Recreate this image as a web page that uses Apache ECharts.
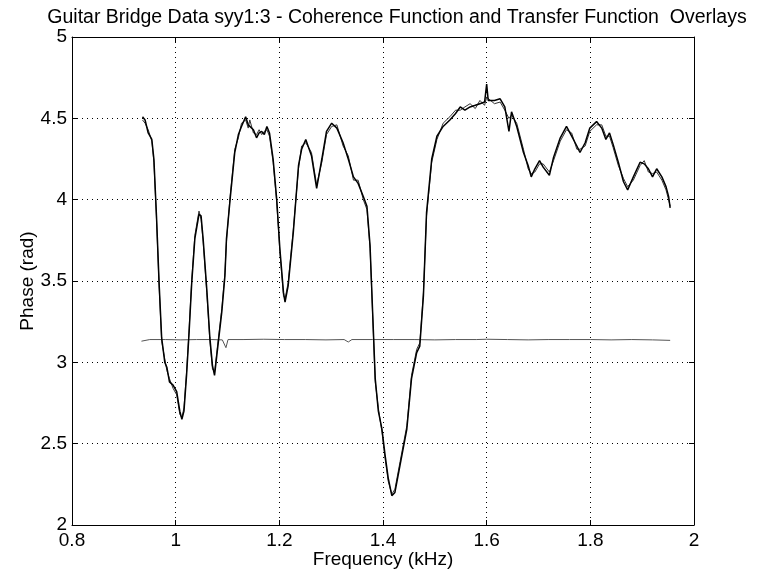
<!DOCTYPE html>
<html>
<head>
<meta charset="utf-8">
<script src="https://cdn.jsdelivr.net/npm/echarts@6/dist/echarts.min.js"></script>
<style>
  html, body { margin: 0; padding: 0; background: #fff; }
  #chart { width: 758px; height: 574px; }
</style>
</head>
<body>
<div id="chart"></div>
<script>
// 传递函数频率 (kHz)
var freq = [
  0.936, 0.941, 0.947, 0.954, 0.958, 0.963, 0.968, 0.973, 0.979, 0.983,
  0.988, 0.995, 1.002, 1.008, 1.012, 1.016, 1.021, 1.026, 1.031, 1.037,
  1.045, 1.049, 1.053, 1.060, 1.066, 1.071, 1.075, 1.080, 1.089, 1.095,
  1.098, 1.105, 1.114, 1.121, 1.127, 1.135, 1.140, 1.143, 1.150, 1.156,
  1.161, 1.166, 1.171, 1.176, 1.181, 1.188, 1.195, 1.201, 1.208, 1.211,
  1.217, 1.227, 1.237, 1.243, 1.251, 1.262, 1.272, 1.282, 1.291, 1.301,
  1.311, 1.323, 1.333, 1.343, 1.352, 1.362, 1.369, 1.375, 1.380, 1.385,
  1.391, 1.398, 1.404, 1.410, 1.417, 1.423, 1.433, 1.446, 1.455, 1.465,
  1.471, 1.478, 1.484, 1.494, 1.504, 1.516, 1.529, 1.540, 1.549, 1.558,
  1.568, 1.578, 1.587, 1.596, 1.600, 1.603, 1.615, 1.626, 1.635, 1.643,
  1.648, 1.658, 1.671, 1.680, 1.686, 1.693, 1.702, 1.709, 1.721, 1.729,
  1.742, 1.754, 1.764, 1.774, 1.780, 1.790, 1.799, 1.812, 1.822, 1.830,
  1.837, 1.844, 1.854, 1.864, 1.872, 1.883, 1.896, 1.904, 1.912, 1.920,
  1.928, 1.938, 1.946, 1.951, 1.954
];
// 相位 - 第一次测量
var phase1 = [
  4.51, 4.49, 4.41, 4.37, 4.25, 3.90, 3.49, 3.15, 3.00, 2.97,
  2.88, 2.86, 2.82, 2.70, 2.65, 2.70, 2.92, 3.19, 3.49, 3.76,
  3.91, 3.90, 3.76, 3.45, 3.15, 2.98, 2.92, 3.06, 3.31, 3.53,
  3.76, 4.00, 4.29, 4.40, 4.45, 4.51, 4.46, 4.47, 4.43, 4.38,
  4.41, 4.42, 4.40, 4.45, 4.41, 4.25, 4.00, 3.70, 3.43, 3.37,
  3.47, 3.80, 4.21, 4.31, 4.37, 4.27, 4.07, 4.25, 4.42, 4.47,
  4.44, 4.35, 4.25, 4.14, 4.10, 4.02, 3.96, 3.72, 3.31, 2.90,
  2.70, 2.59, 2.43, 2.29, 2.18, 2.20, 2.37, 2.59, 2.90, 3.06,
  3.10, 3.41, 3.92, 4.25, 4.39, 4.45, 4.49, 4.53, 4.57, 4.55,
  4.57, 4.58, 4.59, 4.60, 4.71, 4.61, 4.61, 4.62, 4.57, 4.42,
  4.54, 4.45, 4.29, 4.21, 4.14, 4.19, 4.24, 4.20, 4.15, 4.26,
  4.38, 4.45, 4.39, 4.33, 4.29, 4.35, 4.44, 4.48, 4.44, 4.37,
  4.41, 4.34, 4.23, 4.11, 4.06, 4.14, 4.23, 4.22, 4.19, 4.14,
  4.19, 4.14, 4.08, 4.02, 3.95
];
// 相位 - 第二次测量
var phase2 = [
  4.49, 4.47, 4.43, 4.36, 4.23, 3.88, 3.47, 3.13, 3.02, 2.95,
  2.90, 2.84, 2.80, 2.68, 2.66, 2.72, 2.94, 3.21, 3.51, 3.78,
  3.93, 3.88, 3.74, 3.43, 3.13, 2.96, 2.94, 3.08, 3.33, 3.55,
  3.74, 4.02, 4.31, 4.38, 4.47, 4.49, 4.44, 4.49, 4.41, 4.40,
  4.43, 4.40, 4.42, 4.43, 4.39, 4.23, 3.98, 3.68, 3.41, 3.39,
  3.49, 3.82, 4.19, 4.33, 4.35, 4.29, 4.09, 4.23, 4.40, 4.45,
  4.46, 4.33, 4.27, 4.12, 4.12, 4.00, 3.94, 3.70, 3.29, 2.88,
  2.72, 2.57, 2.41, 2.27, 2.19, 2.22, 2.39, 2.61, 2.92, 3.08,
  3.12, 3.43, 3.90, 4.23, 4.37, 4.47, 4.51, 4.55, 4.55, 4.57,
  4.59, 4.56, 4.61, 4.58, 4.63, 4.63, 4.59, 4.60, 4.55, 4.50,
  4.52, 4.47, 4.31, 4.19, 4.16, 4.17, 4.22, 4.22, 4.17, 4.24,
  4.36, 4.43, 4.41, 4.31, 4.31, 4.33, 4.42, 4.46, 4.46, 4.39,
  4.39, 4.32, 4.21, 4.13, 4.08, 4.12, 4.21, 4.24, 4.17, 4.16,
  4.17, 4.12, 4.06, 4.00, 3.96
];
// 相干函数曲线
var cohFreq = [
  0.934, 0.950, 0.980, 1.010, 1.040, 1.070, 1.090, 1.097, 1.101, 1.130,
  1.170, 1.210, 1.250, 1.290, 1.325, 1.333, 1.340, 1.380, 1.420, 1.460,
  1.500, 1.540, 1.580, 1.600, 1.640, 1.680, 1.720, 1.760, 1.800, 1.840,
  1.880, 1.920, 1.954
];
var coh = [
  3.13, 3.14, 3.14, 3.138, 3.14, 3.14, 3.138, 3.09, 3.14, 3.14,
  3.142, 3.14, 3.14, 3.138, 3.14, 3.125, 3.14, 3.14, 3.14, 3.14,
  3.138, 3.14, 3.14, 3.142, 3.14, 3.138, 3.14, 3.14, 3.14, 3.138,
  3.14, 3.138, 3.135
];

var xTicks = { min: 0.8, max: 2, interval: 0.2 };
var yTicks = { min: 2, max: 5, interval: 0.5 };

function pairs(xs, ys) {
  return xs.map(function (x, i) { return [x, ys[i]]; });
}

var FONT = 'Liberation Sans, Arial, Helvetica, sans-serif';
var FS = 19;
var chart = echarts.init(document.getElementById('chart'));

var dotted = { show: true, lineStyle: { color: '#000', width: 1, type: [1, 4] } };
var tick = { show: true, inside: true, length: 5, lineStyle: { color: '#000' } };
var line = { show: true, onZero: false, lineStyle: { color: '#000', width: 1 } };

chart.setOption({
  animation: false,
  backgroundColor: '#fff',
  title: {
    text: 'Guitar Bridge Data syy1:3 - Coherence Function and Transfer Function  Overlays',
    left: 392,
    textAlign: 'center',
    top: 3,
    textStyle: { fontFamily: FONT, fontSize: 19.5, fontWeight: 'normal', color: '#000' }
  },
  grid: { left: 72, right: 64, top: 37, bottom: 47 },
  xAxis: [{
    type: 'value',
    min: xTicks.min, max: xTicks.max, interval: xTicks.interval,
    name: 'Frequency (kHz)',
    nameLocation: 'middle',
    nameGap: 25,
    nameMoveOverlap: false,
    nameTextStyle: { fontFamily: FONT, fontSize: FS, color: '#000' },
    axisLine: line,
    axisTick: tick,
    axisLabel: { fontFamily: FONT, fontSize: FS, color: '#000', margin: 6 },
    splitLine: dotted
  }, {
    type: 'value', position: 'top',
    min: xTicks.min, max: xTicks.max, interval: xTicks.interval,
    axisLine: line, axisTick: tick, axisLabel: { show: false }, splitLine: { show: false }
  }],
  yAxis: [{
    type: 'value',
    min: yTicks.min, max: yTicks.max, interval: yTicks.interval,
    name: 'Phase (rad)',
    nameLocation: 'middle',
    nameGap: 35,
    nameMoveOverlap: false,
    nameTextStyle: { fontFamily: FONT, fontSize: FS, color: '#000' },
    axisLine: line,
    axisTick: tick,
    axisLabel: { fontFamily: FONT, fontSize: FS, color: '#000', margin: 5 },
    splitLine: dotted
  }, {
    type: 'value', position: 'right',
    min: yTicks.min, max: yTicks.max, interval: yTicks.interval,
    axisLine: line, axisTick: tick, axisLabel: { show: false }, splitLine: { show: false }
  }],
  series: [{
    type: 'line', name: 'coherence',
    data: pairs(cohFreq, coh),
    showSymbol: false,
    lineStyle: { color: '#555', width: 1 }
  }, {
    type: 'line', name: 'syy1',
    data: pairs(freq, phase2),
    showSymbol: false,
    lineStyle: { color: '#333', width: 1 }
  }, {
    type: 'line', name: 'syy2',
    data: pairs(freq, phase1),
    showSymbol: false,
    lineStyle: { color: '#000', width: 1.5 }
  }]
});
</script>
</body>
</html>
